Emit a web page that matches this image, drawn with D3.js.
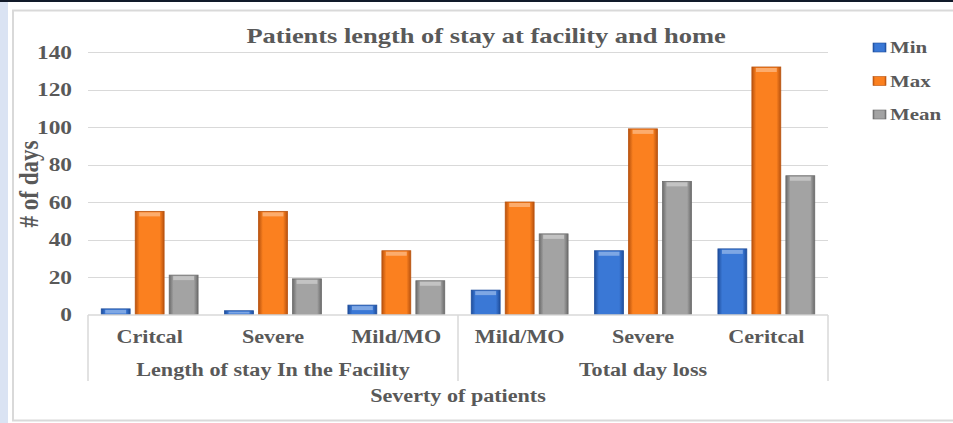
<!DOCTYPE html>
<html>
<head>
<meta charset="utf-8">
<script src="https://cdn.jsdelivr.net/npm/d3@7"></script>
<style>
  body { margin: 0; background: #fff; }
  text { font-family: "Liberation Serif", "Times New Roman", serif; font-weight: bold; fill: #595959; }
</style>
</head>
<body>
<svg width="953" height="423"></svg>
<script>
// data
let groups = ["Length of stay In the Facility", "Total day loss"];
let categories = ["Critcal", "Severe", "Mild/MO", "Mild/MO", "Severe", "Ceritcal"];
let series = ["Min", "Max", "Mean"];
let minVals  = [3, 2, 5, 13, 34, 35];
let maxVals  = [55, 55, 34, 60, 99, 132];
let meanVals = [21, 19, 18, 43, 71, 74];
let yTicks = [0, 20, 40, 60, 80, 100, 120, 140];

let values = [minVals, maxVals, meanVals];
let colors = {
  Min:  ["#1f4e9c", "#3a78d6"],
  Max:  ["#b8520e", "#fb801f"],
  Mean: ["#6b6b6b", "#a3a3a3"]
};

let SX = 1.23; // the source picture is stretched sideways

var svg = d3.select("svg"),
    width = +svg.attr("width"),
    height = +svg.attr("height");

// page bits around the chart frame
svg.append("rect").attr("width", width).attr("height", height).attr("fill", "#fff");
svg.append("rect").attr("x", 0).attr("y", 0).attr("width", 8).attr("height", height).attr("fill", "#dae3f3");
svg.append("rect").attr("x", 0).attr("y", 0).attr("width", width).attr("height", 2).attr("fill", "#111a2a");
svg.append("rect")
    .attr("x", 13).attr("y", 10.5).attr("width", 960).attr("height", 410)
    .attr("fill", "#fff").attr("stroke", "#d9d9d9").attr("stroke-width", 2);

var defs = svg.append("defs");
series.forEach(function(s){
  var g = defs.append("linearGradient").attr("id", "g-" + s)
      .attr("x1", "0%").attr("x2", "100%").attr("y1", "0%").attr("y2", "0%");
  g.append("stop").attr("offset", "0%").attr("stop-color", colors[s][0]);
  g.append("stop").attr("offset", "15%").attr("stop-color", colors[s][1]);
  g.append("stop").attr("offset", "85%").attr("stop-color", colors[s][1]);
  g.append("stop").attr("offset", "100%").attr("stop-color", colors[s][0]);
});

let x0 = d3.scaleBand().domain(d3.range(categories.length)).range([88, 828]);
let x1 = d3.scaleBand().domain(series).range([0, x0.bandwidth()]).paddingInner(0.15).paddingOuter(0.39);
let y = d3.scaleLinear().domain([0, 140]).range([314.5, 52]);

function stext(parent, x, yy, txt, size, anchor){
  return parent.append("text")
      .attr("transform", "translate(" + x + "," + yy + ") scale(" + SX + ",1)")
      .attr("text-anchor", anchor || "middle")
      .style("font-size", size + "px")
      .text(txt);
}

// gridlines + y labels
var grid = svg.append("g");
yTicks.forEach(function(t){
  if (t > 0) {
    grid.append("line")
        .attr("x1", 88).attr("x2", 828)
        .attr("y1", Math.round(y(t)) + 0.5).attr("y2", Math.round(y(t)) + 0.5)
        .attr("stroke", "#d9d9d9").attr("stroke-width", 1);
  }
  stext(grid, 72, y(t) + 6.5, t, 19, "end");
});

// bars
var bars = svg.append("g");
series.forEach(function(s, si){
  bars.selectAll(".b" + si)
    .data(values[si])
    .enter().append("rect")
    .attr("x", function(d, i){ return x0(i) + x1(s); })
    .attr("y", function(d){ return y(d); })
    .attr("width", x1.bandwidth())
    .attr("height", function(d){ return y(0) - y(d); })
    .attr("fill", "url(#g-" + s + ")")
    .attr("stroke", colors[s][0]).attr("stroke-width", 0.8);
  // top bevel highlight
  bars.selectAll(".h" + si)
    .data(values[si])
    .enter().append("rect")
    .attr("x", function(d, i){ return x0(i) + x1(s) + 4; })
    .attr("y", function(d){ return y(d) + 1; })
    .attr("width", x1.bandwidth() - 8)
    .attr("height", function(d){ return Math.min(4, y(0) - y(d) - 2); })
    .attr("fill", "#fff").attr("opacity", 0.35);
});

// category axis
var xa = svg.append("g");
xa.append("line").attr("x1", 88).attr("x2", 828).attr("y1", 315).attr("y2", 315)
    .attr("stroke", "#d9d9d9").attr("stroke-width", 1.5);
[88, 458, 828].forEach(function(px){
  xa.append("line").attr("x1", px).attr("x2", px).attr("y1", 315).attr("y2", 381)
      .attr("stroke", "#d9d9d9").attr("stroke-width", 1.5);
});
categories.forEach(function(c, i){
  stext(xa, x0(i) + x0.bandwidth() / 2, 342.5, c, 18);
});
groups.forEach(function(g, gi){
  var cx = x0(gi * 3) + x0.bandwidth() * 1.5;
  stext(xa, cx, 375.5, g, 18);
});
stext(svg, 458, 401.5, "Severty of patients", 18);

// title
stext(svg, 486, 43, "Patients length of stay at facility and home", 21.5);

// y axis title
svg.append("text")
    .attr("transform", "translate(38,184) rotate(-90) scale(1," + SX + ")")
    .attr("text-anchor", "middle")
    .style("font-size", "23px")
    .text("# of days");

// legend
var leg = svg.append("g");
series.forEach(function(s, i){
  var by = 53 + i * 33.5;
  leg.append("rect").attr("x", 873).attr("y", by - 10).attr("width", 13).attr("height", 9)
      .attr("fill", "url(#g-" + s + ")").attr("stroke", colors[s][0]).attr("stroke-width", 0.6);
  stext(leg, 890, by, s, 17, "start");
});
</script>
</body>
</html>
